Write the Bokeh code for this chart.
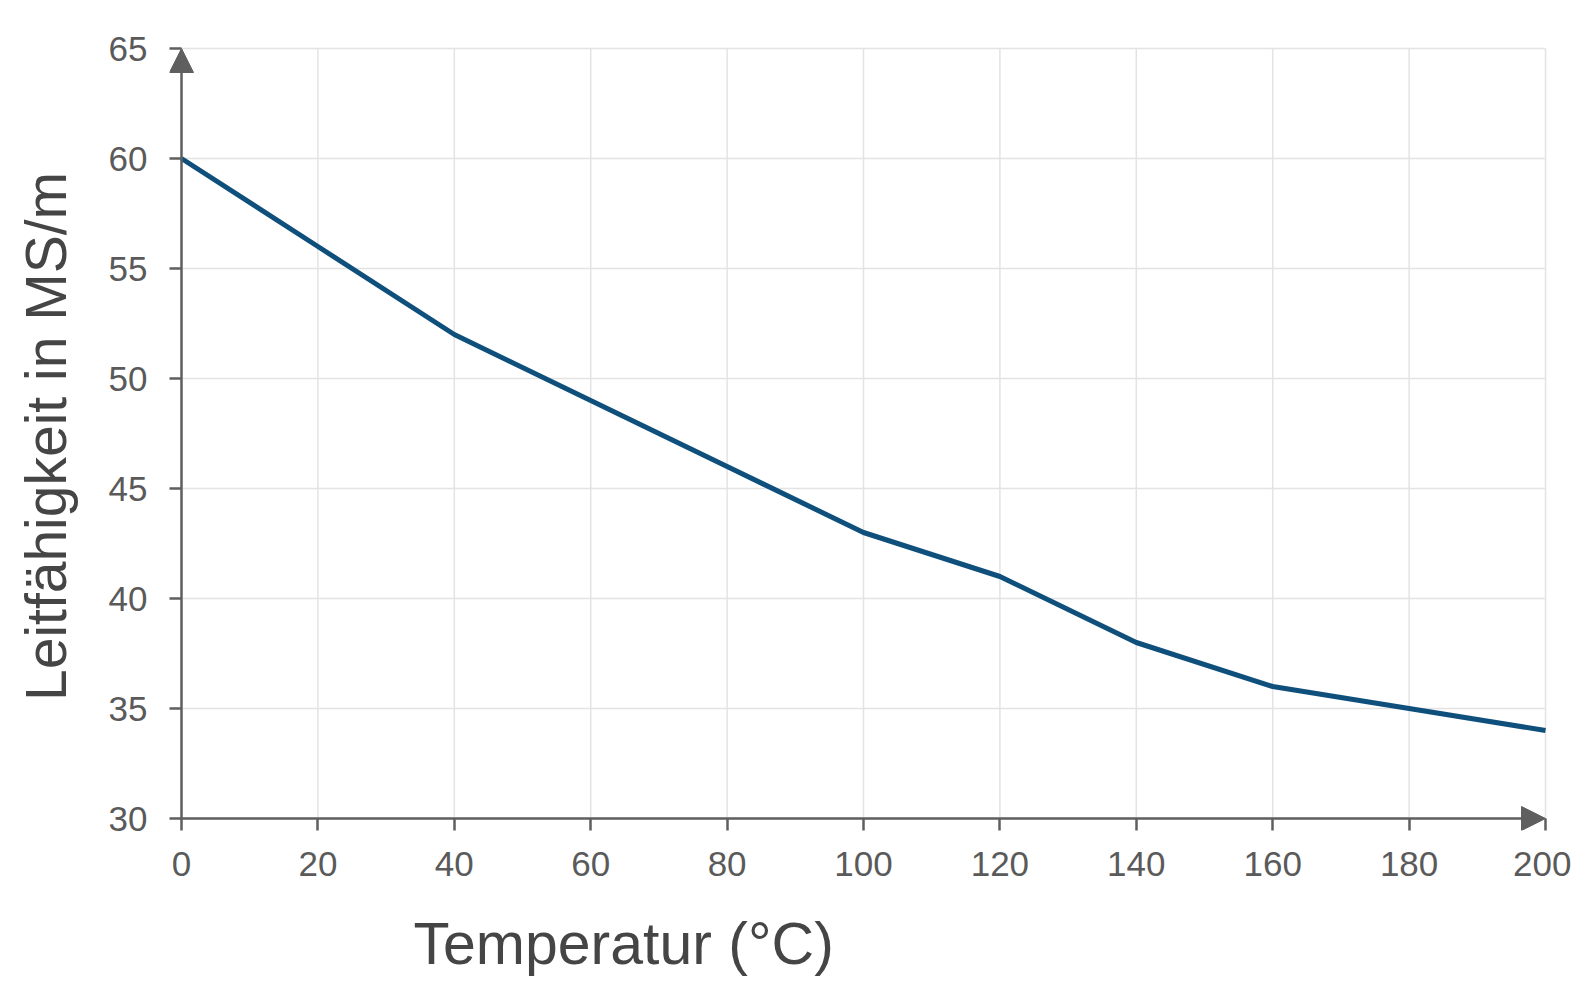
from bokeh.plotting import figure
from bokeh.models import Arrow, NormalHead, Title, FixedTicker, Range1d
from bokeh.embed import file_html
from bokeh.resources import INLINE

# Messwerte: Leitfähigkeit über Temperatur
temperatur = [0, 20, 40, 60, 80, 100, 120, 140, 160, 180, 200]
leitfaehigkeit = [60, 56, 52, 49, 46, 43, 41, 38, 36, 35, 34]

x_ticks = [0, 20, 40, 60, 80, 100, 120, 140, 160, 180, 200]
y_ticks = [30, 35, 40, 45, 50, 55, 60, 65]

x_min, x_max = 0, 200
y_min, y_max = 30, 65

AXIS_COLOR = "#5f5f5f"
LABEL_COLOR = "#5a5a5a"
TITLE_COLOR = "#454545"
LINE_COLOR = "#0e4f7c"
FONT = "Liberation Sans"

# Datenbereich in Pixeln; etwas Rand im Frame, damit die Pfeilspitzen nicht abgeschnitten werden
DATA_W, DATA_H = 1364, 770
PAD_LO, PAD_HI = 12, 6
ux = (x_max - x_min) / DATA_W
uy = (y_max - y_min) / DATA_H

p = figure(
    frame_width=DATA_W + PAD_LO + PAD_HI,
    frame_height=DATA_H + PAD_LO + PAD_HI,
    x_range=Range1d(x_min - PAD_LO * ux, x_max + PAD_HI * ux),
    y_range=Range1d(y_min - PAD_LO * uy, y_max + PAD_HI * uy),
    toolbar_location=None,
    output_backend="svg",
    min_border_left=169,
    min_border_right=20,
    min_border_top=42,
    min_border_bottom=165,
)
p.outline_line_color = None
p.grid.visible = False

# Gitterlinien nur innerhalb des Achsenbereichs
p.segment(x0=x_min, x1=x_max, y0=y_ticks, y1=y_ticks, line_color="#e3e3e3", line_width=1.5)
p.segment(x0=x_ticks, x1=x_ticks, y0=y_min, y1=y_max, line_color="#e3e3e3", line_width=1.5)

p.line(temperatur, leitfaehigkeit, line_color=LINE_COLOR, line_width=5)

# Achsen: nur Ticks und Beschriftungen, die Achsenlinien kommen von den Pfeilen
for ax in (p.xaxis[0], p.yaxis[0]):
    ax.axis_line_color = None
    ax.major_tick_line_color = AXIS_COLOR
    ax.major_tick_line_width = 2.5
    ax.major_tick_in = PAD_LO
    ax.major_tick_out = 0
    ax.minor_tick_line_color = None
    ax.major_label_text_color = LABEL_COLOR
    ax.major_label_text_font = FONT
    ax.major_label_text_font_size = "35px"

p.xaxis.ticker = FixedTicker(ticks=x_ticks)
p.yaxis.ticker = FixedTicker(ticks=y_ticks)
p.xaxis.major_label_standoff = 21
p.yaxis.major_label_standoff = 22

p.yaxis.axis_label = "Leitfähigkeit in MS/m"
p.yaxis.axis_label_text_font = FONT
p.yaxis.axis_label_text_font_size = "57px"
p.yaxis.axis_label_text_font_style = "normal"
p.yaxis.axis_label_text_color = TITLE_COLOR
p.yaxis.axis_label_standoff = 28

# x-Achsentitel, nach links versetzt wie im Original
x_title = Title(
    text="Temperatur (°C)",
    align="left",
    offset=244,
    text_font=FONT,
    text_font_size="59px",
    text_font_style="normal",
    text_color=TITLE_COLOR,
    standoff=60,
)
p.add_layout(x_title, "below")

# Achsenlinien mit Pfeilspitzen
p.add_layout(Arrow(
    end=NormalHead(size=24, fill_color=AXIS_COLOR, line_color=AXIS_COLOR),
    x_start=x_min, y_start=y_min, x_end=x_min, y_end=y_max,
    line_color=AXIS_COLOR, line_width=2.5,
))
p.add_layout(Arrow(
    end=NormalHead(size=24, fill_color=AXIS_COLOR, line_color=AXIS_COLOR),
    x_start=x_min, y_start=y_min, x_end=x_max, y_end=y_min,
    line_color=AXIS_COLOR, line_width=2.5,
))

open("out.html", "w").write(file_html(p, INLINE))
